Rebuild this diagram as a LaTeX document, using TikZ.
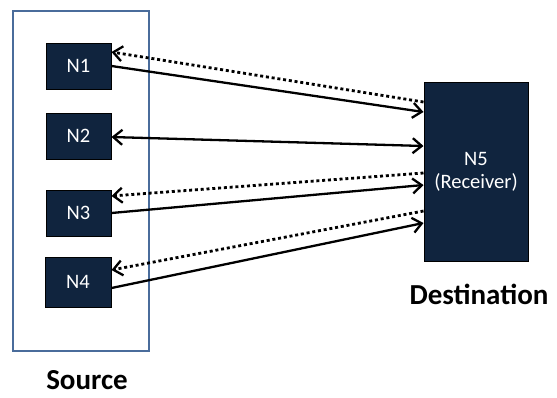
\documentclass[tikz,border=0pt]{standalone}
\usepackage{fontspec}
\setmainfont{Carlito}
\usetikzlibrary{arrows.meta}
\definecolor{boxfill}{HTML}{10243E}
\definecolor{srcblue}{HTML}{4A6C9B}
\tikzset{
  nbox/.style={draw=black, line width=1pt, fill=boxfill, text=white, inner sep=0pt,
    font=\fontsize{20.5}{23}\selectfont, align=center},
  srcframe/.style={draw=srcblue, line width=1.5pt, inner sep=0pt},
  lbl/.style={font=\bfseries\fontsize{29}{32}\selectfont, inner sep=0pt, anchor=base},
  tip/.style={-{Straight Barb[length=9pt,width=15pt,line width=2.3pt]}},
  solidarr/.style={line width=2.3pt, tip},
  bothArr/.style={line width=2.3pt, {Straight Barb[length=9pt,width=15pt,line width=2.3pt]}-{Straight Barb[length=9pt,width=15pt,line width=2.3pt]}},
  dotarr/.style={line width=2.8pt, dash pattern=on 3pt off 2.8pt, tip}
}
\begin{document}
\begin{tikzpicture}[x=1pt,y=-1pt]
\useasboundingbox (0,0) rectangle (557,397);
\node[srcframe, minimum width=136pt, minimum height=340pt] (src) at (81,181) {};
\node[nbox, minimum width=65pt, minimum height=46pt] (n1) at (78.5,66) {N1};
\node[nbox, minimum width=65pt, minimum height=46pt] (n2) at (78.5,136) {N2};
\node[nbox, minimum width=65pt, minimum height=46pt] (n3) at (78.5,213) {N3};
\node[nbox, minimum width=66pt, minimum height=50pt] (n4) at (78,282) {N4};
\node[nbox, minimum width=104pt, minimum height=179pt] (n5) at (476,171.5) {N5\\(Receiver)};
\node[lbl] (srclbl) at (87,389.5) {Source};
\node[lbl] (dstlbl) at (479,304) {Destination};
% N1
\draw[dotarr] ([yshift=69.5pt]n5.west) -- ([yshift=14pt]n1.east);
\draw[solidarr] (n1.east) -- ([yshift=59.5pt]n5.west);
% N2
\draw[bothArr] ([yshift=-1pt]n2.east) -- ([yshift=25.5pt]n5.west);
% N3
\draw[dotarr] ([yshift=-1.5pt]n5.west) -- ([yshift=17pt]n3.east);
\draw[solidarr] (n3.east) -- ([yshift=-13.5pt]n5.west);
% N4
\draw[dotarr] ([yshift=-39.5pt]n5.west) -- ([yshift=12pt]n4.east);
\draw[solidarr] ([yshift=-6pt]n4.east) -- ([yshift=-51.5pt]n5.west);
\end{tikzpicture}
\end{document}
